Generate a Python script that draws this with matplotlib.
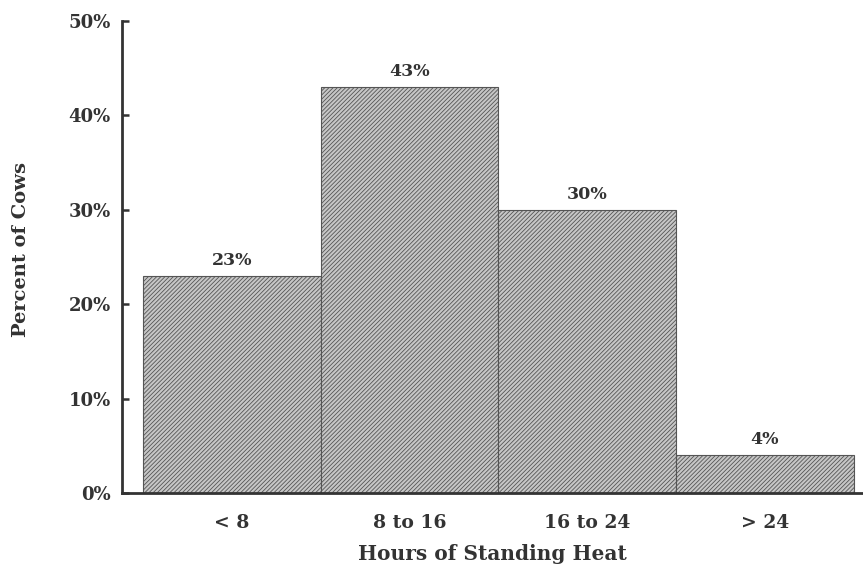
import matplotlib
matplotlib.use("Agg")
import matplotlib.pyplot as plt
from matplotlib.ticker import FuncFormatter

categories = ["< 8", "8 to 16", "16 to 24", "> 24"]
percents = [23, 43, 30, 4]
yticks = [0, 10, 20, 30, 40, 50]

plt.rcParams['font.family'] = ['DejaVu Serif']
plt.rcParams['hatch.color'] = '#8a8a8a'
plt.rcParams['hatch.linewidth'] = 0.6

fig = plt.figure(figsize=(8.63, 5.64), dpi=100)
ax = fig.add_axes([0.1414, 0.126, 0.858, 0.8368])

x = list(range(len(categories)))
bars = ax.bar(x, percents, width=1.0, facecolor='#c6c6c6', edgecolor='#555555',
              linewidth=0.8, hatch='////////')

for xi, v in zip(x, percents):
    ax.annotate(f"{v}%", (xi, v), xytext=(0, 5), textcoords='offset points',
                ha='center', va='bottom', fontsize=12.5, fontweight='bold', color='#333333')

ax.set_xlim(-0.618, 3.55)
ax.set_ylim(0, 50)
ax.set_yticks(yticks)
ax.yaxis.set_major_formatter(FuncFormatter(lambda v, p: f"{int(v)}%"))
ax.set_xticks(x)
ax.set_xticklabels(categories)

for s in ['top', 'right']:
    ax.spines[s].set_visible(False)
for s in ['left', 'bottom']:
    ax.spines[s].set_linewidth(2)
    ax.spines[s].set_color('#333333')

ax.tick_params(axis='y', direction='in', length=5, width=1.8, color='#333333',
               labelsize=13, labelcolor='#333333', pad=8)
for lab in ax.get_yticklabels():
    lab.set_fontweight('bold')
ax.tick_params(axis='x', length=0, labelsize=13.5, labelcolor='#333333', pad=15)
for lab in ax.get_xticklabels():
    lab.set_fontweight('bold')

ax.set_xlabel("Hours of Standing Heat", fontsize=14.5, fontweight='bold', color='#333333', labelpad=9)
ax.set_ylabel("Percent of Cows", fontsize=14, fontweight='bold', color='#333333')
ax.yaxis.set_label_coords(-0.124, 0.515)

fig.savefig("out.png", dpi=100)
